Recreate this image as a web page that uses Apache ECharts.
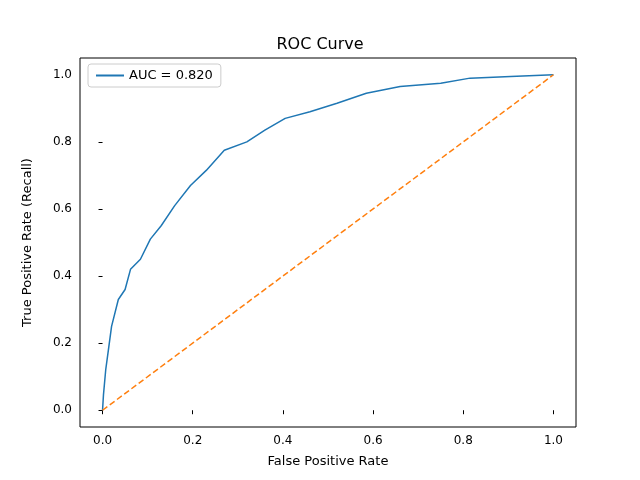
<!DOCTYPE html>
<html><head><meta charset="utf-8">
<script src="https://cdn.jsdelivr.net/npm/echarts@6/dist/echarts.min.js"></script>
<style>body{margin:0}#c{width:640px;height:480px}</style></head>
<body><div id="c"></div>
<script>
var fpr = [0, 0.002, 0.007, 0.013, 0.02, 0.035, 0.05, 0.062, 0.084, 0.106, 0.13, 0.16, 0.195, 0.23, 0.27, 0.32, 0.36, 0.405, 0.46, 0.52, 0.585, 0.66, 0.75, 0.815, 0.905, 1];
var tpr = [0, 0.045, 0.12, 0.18, 0.25, 0.33, 0.36, 0.42, 0.45, 0.51, 0.55, 0.61, 0.67, 0.715, 0.775, 0.8, 0.835, 0.87, 0.89, 0.915, 0.945, 0.965, 0.975, 0.99, 0.995, 1];
var diag = [[0, 0], [1, 1]];
var ticks = [0, 0.2, 0.4, 0.6, 0.8, 1.0];
var aucLabel = 'AUC = 0.820';

var font = 'DejaVu Sans';
var chart = echarts.init(document.getElementById('c'));
var roc = fpr.map(function (x, i) { return [x, tpr[i]]; });

function axis(name, gap) {
    return {
        type: 'value', min: -0.05, max: 1.05,
        name: name, nameLocation: 'middle', nameGap: gap,
        nameTextStyle: {fontSize: 13, color: '#000'},
        axisLine: {show: false},
        axisTick: {show: true, length: 4, customValues: ticks, lineStyle: {color: '#000'}},
        axisLabel: {color: '#000', fontSize: 12, customValues: ticks,
            formatter: function (v) { return v.toFixed(1); }},
        splitLine: {show: false}
    };
}

chart.setOption({
    animation: false,
    textStyle: {fontFamily: font},
    title: {text: 'ROC Curve', left: 'center', top: 32, textStyle: {fontSize: 16, fontWeight: 'normal', color: '#000'}},
    legend: {
        left: 88, top: 64, padding: [5, 8], borderColor: '#ccc', borderWidth: 1, borderRadius: 3,
        itemWidth: 28, itemHeight: 2, icon: 'rect',
        textStyle: {fontSize: 13, color: '#000'},
        data: [aucLabel]
    },
    grid: {left: 80, right: 64, top: 58, bottom: 53, show: true, borderColor: '#000', borderWidth: 1},
    xAxis: axis('False Positive Rate', 28),
    yAxis: axis('True Positive Rate (Recall)', 46),
    series: [
        {name: aucLabel, type: 'line', data: roc, showSymbol: false,
         color: '#1f77b4', lineStyle: {width: 1.5, color: '#1f77b4'}},
        {name: 'diag', type: 'line', data: diag, showSymbol: false,
         color: '#ff7f0e', lineStyle: {width: 1.5, type: [6, 3], color: '#ff7f0e'}}
    ]
});
</script></body></html>
